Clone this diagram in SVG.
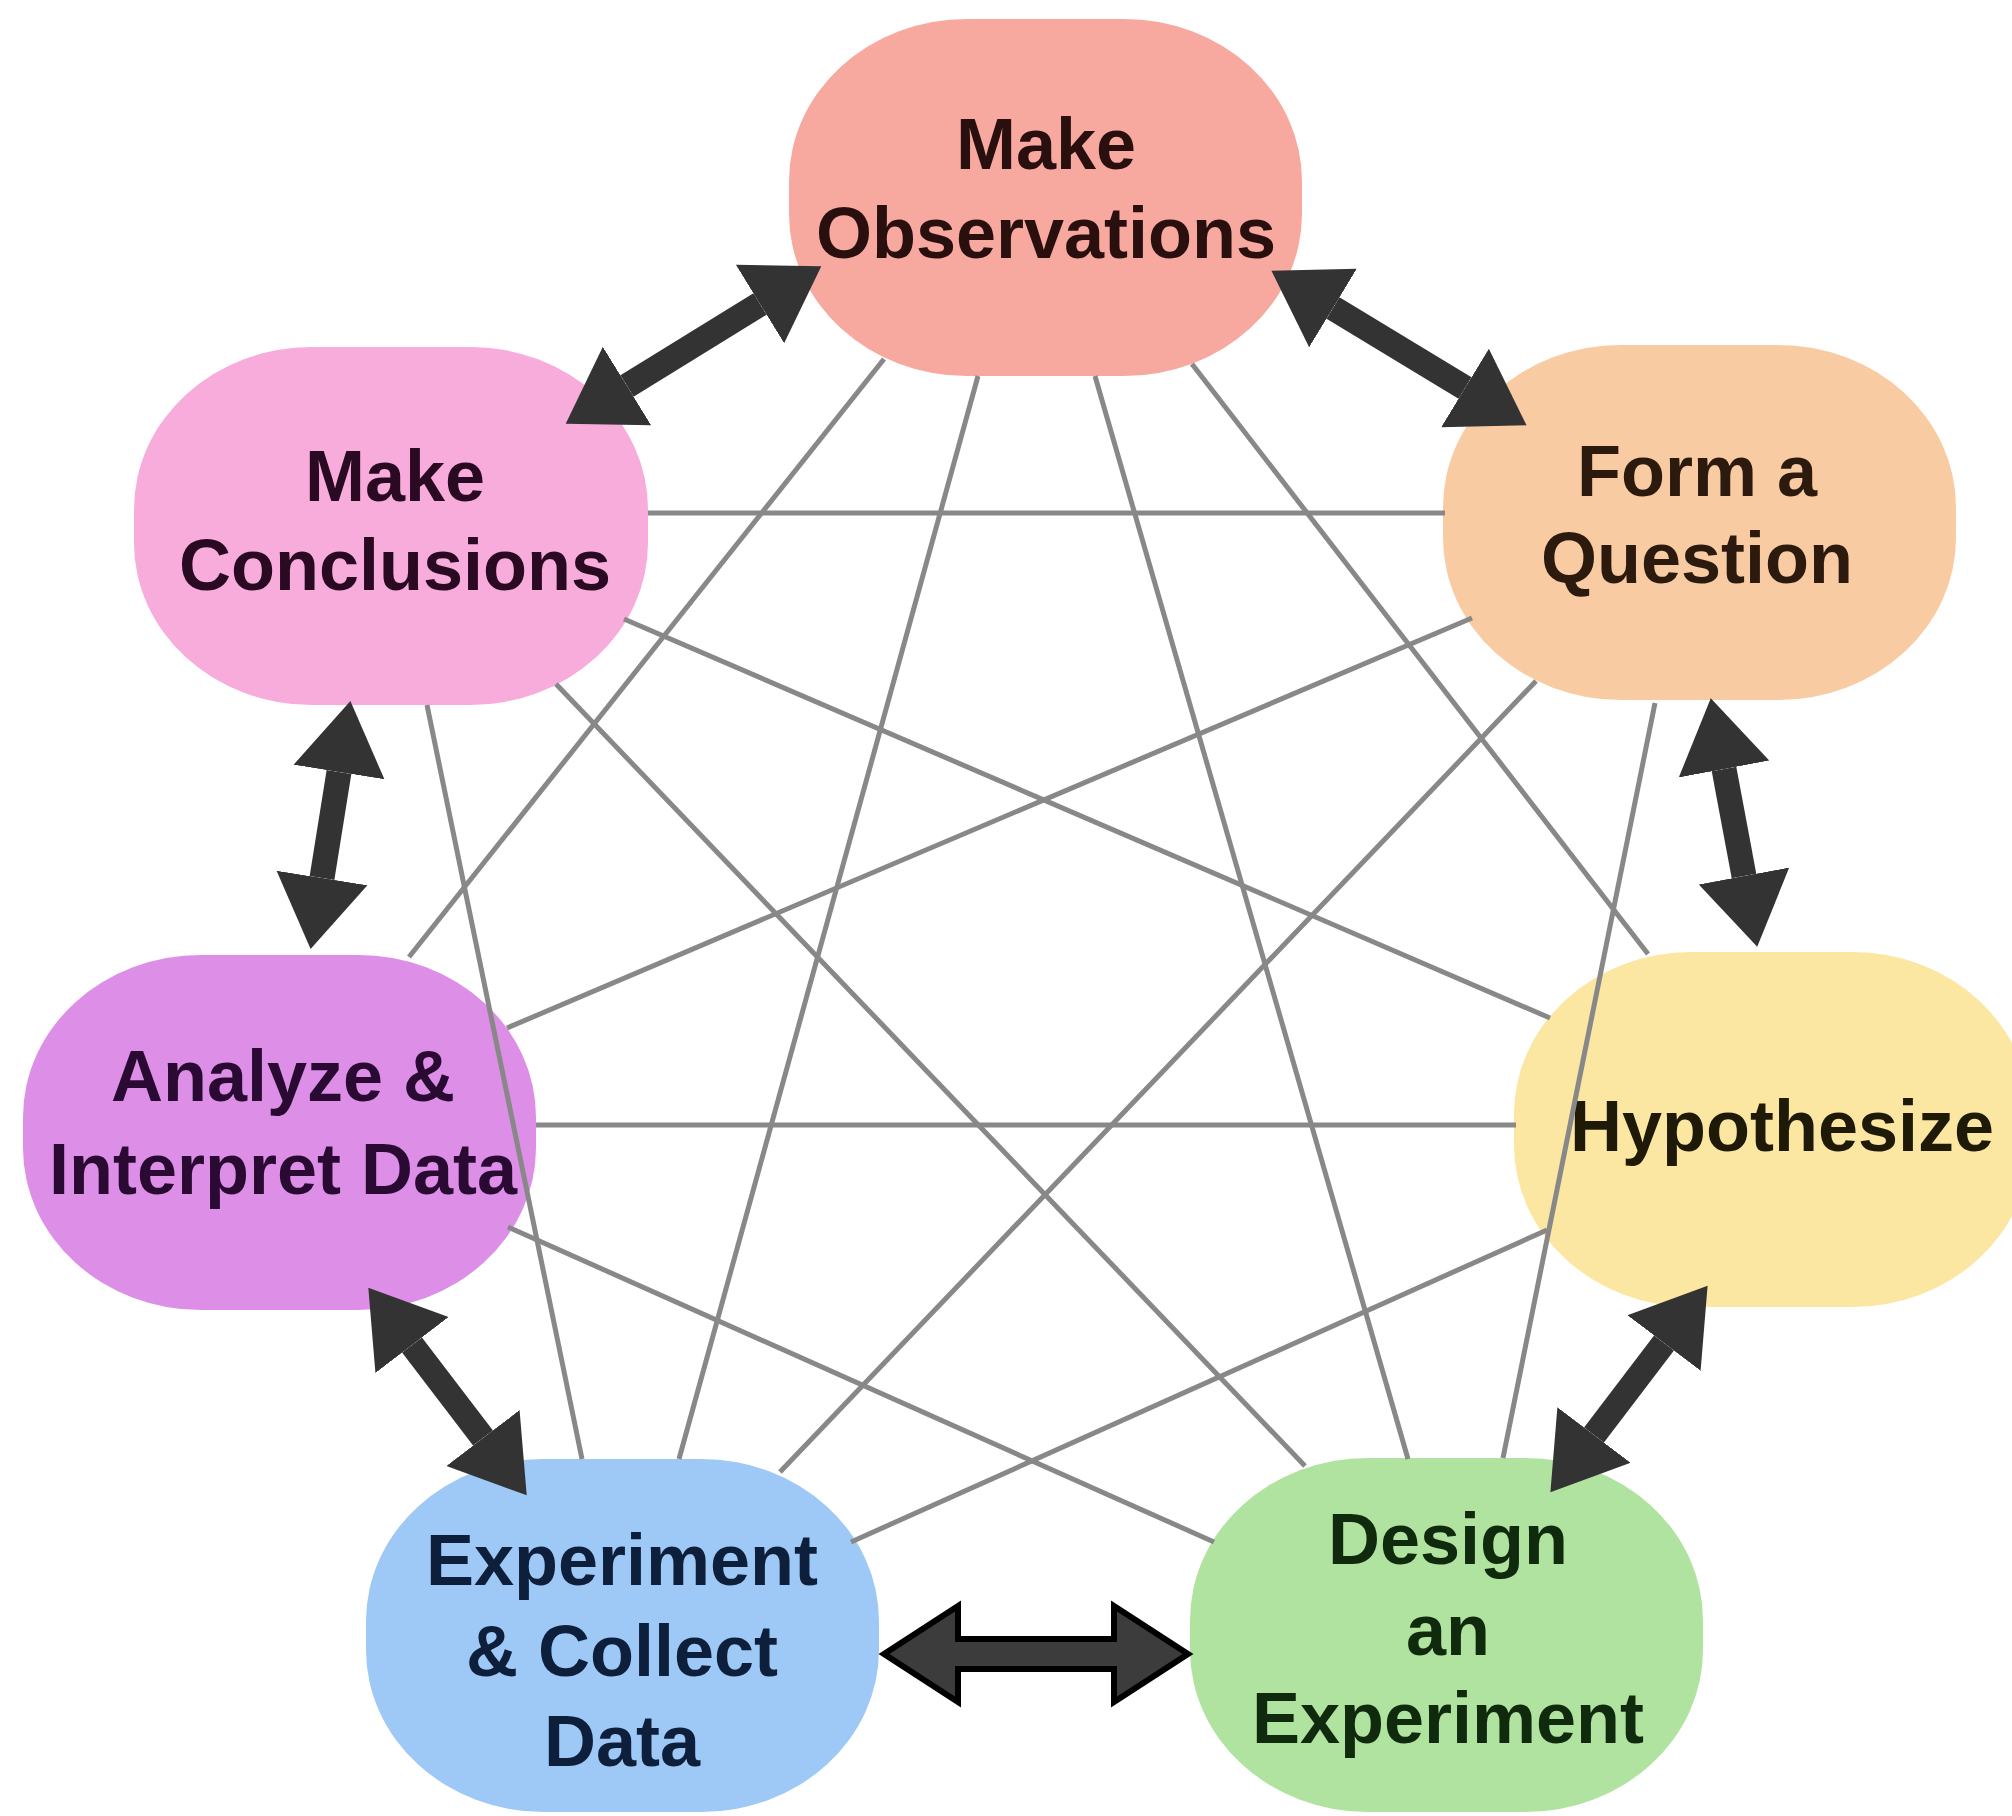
<svg xmlns="http://www.w3.org/2000/svg" width="2012" height="1816" viewBox="0 0 2012 1816">
  <style>
    .node-label { font-family: "Liberation Sans", Arial, Helvetica, sans-serif; font-weight: bold; font-size: 72px; text-anchor: middle; }
    .link { stroke: #888888; stroke-width: 5; fill: none; stroke-linecap: butt; }
    .flow { stroke: #333333; stroke-width: 25; fill: none; marker-start: url(#head); marker-end: url(#head); }
    .flow-outline { fill: #3c3c3c; stroke: #000000; stroke-width: 6; stroke-linejoin: miter; }
  </style>
  <defs>
    <marker id="head" markerUnits="userSpaceOnUse" viewBox="0 -50 74 100" markerWidth="74" markerHeight="100" refX="0" refY="0" orient="auto-start-reverse">
      <path d="M0,-46 L72,0 L0,46 z" fill="#333333"/>
    </marker>
  </defs>

  <rect x="0" y="0" width="2012" height="1816" fill="#ffffff"/>

  <!-- steps of the cycle -->
  <g id="node-observations">
    <rect x="789" y="19" width="513" height="357" rx="178" ry="162" fill="#F7A9A0"/>
    <text class="node-label" x="1046" y="169" fill="#2a0f0f">Make</text>
    <text class="node-label" x="1046" y="258" fill="#2a0f0f">Observations</text>
  </g>
  <g id="node-question">
    <rect x="1443" y="345" width="513" height="355" rx="178" ry="162" fill="#F8CBA3"/>
    <text class="node-label" x="1697" y="496" fill="#2b1a0d">Form a</text>
    <text class="node-label" x="1697" y="583" fill="#2b1a0d">Question</text>
  </g>
  <g id="node-hypothesize">
    <rect x="1514" y="952" width="516" height="355" rx="178" ry="162" fill="#FBE6A2"/>
    <text class="node-label" x="1782" y="1151" fill="#1f1a08">Hypothesize</text>
  </g>
  <g id="node-design">
    <rect x="1190" y="1458" width="513" height="354" rx="178" ry="162" fill="#B1E3A0"/>
    <text class="node-label" x="1448" y="1564" fill="#0f2a0d">Design</text>
    <text class="node-label" x="1448" y="1655" fill="#0f2a0d">an</text>
    <text class="node-label" x="1448" y="1743" fill="#0f2a0d">Experiment</text>
  </g>
  <g id="node-experiment">
    <rect x="366" y="1459" width="513" height="353" rx="178" ry="162" fill="#9EC8F5"/>
    <text class="node-label" x="622" y="1585" fill="#0d1f3a">Experiment</text>
    <text class="node-label" x="622" y="1676" fill="#0d1f3a">&amp; Collect</text>
    <text class="node-label" x="622" y="1766" fill="#0d1f3a">Data</text>
  </g>
  <g id="node-analyze">
    <rect x="23" y="955" width="513" height="355" rx="178" ry="162" fill="#DD8FE8"/>
    <text class="node-label" x="283" y="1101" fill="#2a0a33">Analyze &amp;</text>
    <text class="node-label" x="283" y="1194" fill="#2a0a33">Interpret Data</text>
  </g>
  <g id="node-conclusions">
    <rect x="134" y="347" width="514" height="358" rx="178" ry="162" fill="#F7ACDC"/>
    <text class="node-label" x="395" y="501" fill="#2a0a22">Make</text>
    <text class="node-label" x="395" y="590" fill="#2a0a22">Conclusions</text>
  </g>

  <!-- connectors: grey cross links and heavy two-way arrows between neighbours -->
  <g id="connectors">
    <line class="link" x1="648" y1="513" x2="1445" y2="513"/>
    <line class="link" x1="536" y1="1125" x2="1516" y2="1125"/>
    <line class="link" x1="884" y1="359" x2="409" y2="957"/>
    <line class="link" x1="978" y1="376" x2="679" y2="1459"/>
    <line class="link" x1="1095" y1="376" x2="1408" y2="1459"/>
    <line class="link" x1="1192" y1="364" x2="1648" y2="954"/>
    <line class="link" x1="1472" y1="618" x2="507" y2="1028"/>
    <line class="link" x1="1536" y1="681" x2="780" y2="1472"/>
    <line class="link" x1="1655" y1="703" x2="1503" y2="1458"/>
    <line class="link" x1="624" y1="619" x2="1550" y2="1018"/>
    <line class="link" x1="556" y1="684" x2="1305" y2="1466"/>
    <line class="link" x1="427" y1="705" x2="582" y2="1459"/>
    <line class="link" x1="1547" y1="1230" x2="851" y2="1542"/>
    <line class="link" x1="508" y1="1227" x2="1214" y2="1542"/>

    <line class="flow" x1="760" y1="304" x2="627" y2="386"/>
    <line class="flow" x1="1333" y1="308" x2="1465" y2="388"/>
    <line class="flow" x1="1724" y1="769" x2="1744" y2="876"/>
    <line class="flow" x1="1664" y1="1343" x2="1594" y2="1435"/>
    <line class="flow" x1="483" y1="1438" x2="412" y2="1345"/>
    <line class="flow" x1="339" y1="772" x2="322" y2="878"/>
    <polygon class="flow-outline" points="884,1654 958,1606 958,1639 1114,1639 1114,1606 1188,1654 1114,1702 1114,1669 958,1669 958,1702"/>
  </g>
</svg>
